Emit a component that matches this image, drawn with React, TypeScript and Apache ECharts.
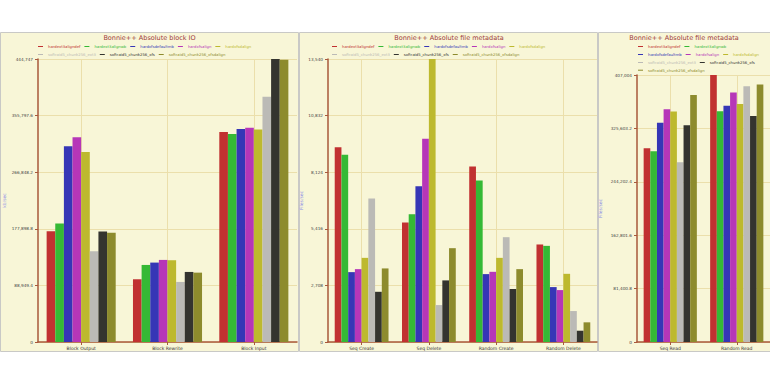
import React, { useEffect, useRef } from "react";
import * as echarts from "echarts";

const seriesNames = [
  "hardext3aligndef",
  "hardext3alignwb",
  "hardxfsdefaultmb",
  "hardxfsalign",
  "hardxfsdalign",
  "softraid5_chunk256_ext3",
  "softraid5_chunk256_xfs",
  "softraid5_chunk256_xfsdalign",
];
const seriesColors = ["#c13131", "#35b935", "#3636b6", "#b636b8", "#bdb92e", "#bbbab6", "#34342f", "#8d8b2d"];

const blockCategories = ["Block Output", "Block Rewrite", "Block Input"];
const metaCategories = ["Seq Create", "Seq Delete", "Random Create", "Random Delete"];
const readCategories = ["Seq Read", "Random Read"];

// values per category, in the order of seriesNames
const blockOutput = [174100, 186200, 307500, 321600, 298600, 142800, 173600, 171500];
const blockRewrite = [98600, 121100, 124800, 129000, 128500, 94400, 110100, 109000];
const blockInput = [329900, 326700, 334600, 336600, 334000, 385400, 444747, 443600];
const seqCreate = [9313, 8964, 3343, 3486, 4026, 6863, 2402, 3520];
const seqDelete = [5717, 6113, 7451, 9729, 13540, 1767, 2947, 4489];
const randomCreate = [8391, 7723, 3248, 3358, 4026, 5015, 2531, 3486];
const randomDelete = [4666, 4600, 2627, 2484, 3262, 1481, 540, 941];
const seqRead = [295300, 290700, 334400, 354700, 351200, 273900, 330300, 376500];
const randomRead = [407004, 351700, 360300, 380200, 362800, 389800, 344500, 392400];

const axisMaxima = [444747, 13540, 407004];
const titles = ["Bonnie++ Absolute block IO", "Bonnie++ Absolute file metadata", "Bonnie++ Absolute file metadata"];
const yNames = ["kb/sec", "Files/sec", "Files/sec"];

const FONT = "DejaVu Sans";
const AXIS_COLOR = "#a9583b";
const GRID_COLOR = "#ebdfab";

const fmt = (v: number) =>
  (Math.round(v * 10) / 10).toLocaleString("en-US", { maximumFractionDigits: 1 });

export default function App() {
  const ref = useRef<HTMLDivElement>(null);
  useEffect(() => {
    if (!ref.current) return;
    const chart = echarts.init(ref.current, null, { renderer: "svg" });

    const panelCats = [blockCategories, metaCategories, readCategories];
    const panelValues = [
      [blockOutput, blockRewrite, blockInput],
      [seqCreate, seqDelete, randomCreate, randomDelete],
      [seqRead, randomRead],
    ];
    const grids = [
      { left: 38, right: 770 - 297, top: 59, bottom: 43 },
      { left: 328, right: 770 - 597, top: 59, bottom: 43 },
      { left: 637, right: 0, top: 75, bottom: 43 },
    ];
    const nameGaps = [31, 23, 34];
    const titleCenters = [149.5, 449, 684];
    const legendLefts = [38, 332, 638];
    const legendRows = [
      [[0, 1, 2, 3, 4], [5, 6, 7]],
      [[0, 1, 2, 3, 4], [5, 6, 7]],
      [[0, 1], [2, 3, 4], [5, 6], [7]],
    ];
    const rowCenters = [47, 55, 63, 70.7];

    const legends: any[] = [];
    legendRows.forEach((rows, p) => {
      rows.forEach((row, r) => {
        legends.push({
          left: legendLefts[p],
          top: rowCenters[r] - 2.5,
          orient: "horizontal",
          padding: 0,
          icon: "rect",
          itemWidth: 5,
          itemHeight: 1,
          itemGap: 4,
          selectedMode: false,
          textStyle: { fontSize: 3.8, fontFamily: FONT },
          data: row.map((i) => ({ name: seriesNames[i], textStyle: { color: seriesColors[i] } })),
        });
      });
    });

    const series: any[] = [];
    panelValues.forEach((vals, p) => {
      seriesNames.forEach((name, s) => {
        series.push({
          type: "bar",
          name,
          xAxisIndex: p,
          yAxisIndex: p,
          barGap: "0%",
          barCategoryGap: "20%",
          itemStyle: { color: seriesColors[s] },
          data: vals.map((arr) => arr[s]),
        });
      });
    });

    const panelRects = [
      [0.5, 298.5],
      [299.5, 597.5],
      [598.5, 770.5],
    ];

    chart.setOption({
      animation: false,
      textStyle: { fontFamily: FONT },
      graphic: panelRects.map(([x0, x1]) => ({
        type: "rect",
        z: -10,
        silent: true,
        shape: { x: x0, y: 32.5, width: x1 - x0, height: 319 },
        style: { fill: "#f8f6d7", stroke: "#c9c9c6", lineWidth: 1 },
      })),
      title: titles.map((t, p) => ({
        text: t,
        left: titleCenters[p],
        top: 34.5,
        textAlign: "center",
        padding: 0,
        textStyle: { fontSize: 6.5, fontWeight: "normal", color: "#9e3b3b", fontFamily: FONT },
      })),
      legend: legends,
      grid: grids,
      xAxis: panelCats.map((cats, p) => ({
        type: "category",
        gridIndex: p,
        data: cats,
        boundaryGap: true,
        axisLine: { show: true, lineStyle: { color: AXIS_COLOR, width: 1.5 } },
        axisTick: { show: true, alignWithLabel: true, length: 3, lineStyle: { color: AXIS_COLOR } },
        axisLabel: { fontSize: 4.5, color: "#333", margin: 4, fontFamily: FONT },
        splitLine: { show: true, alignWithLabel: true, lineStyle: { color: GRID_COLOR, width: 1 } },
      })),
      yAxis: axisMaxima.map((max, p) => ({
        type: "value",
        gridIndex: p,
        min: 0,
        max,
        interval: max / 5,
        name: yNames[p],
        nameLocation: "middle",
        nameGap: nameGaps[p],
        nameRotate: 90,
        nameTextStyle: { color: "#8c8ce6", fontSize: 4.5, fontFamily: FONT },
        axisLine: { show: true, lineStyle: { color: AXIS_COLOR, width: 1.5 } },
        axisTick: { show: true, length: 3, lineStyle: { color: AXIS_COLOR } },
        axisLabel: { fontSize: 4.2, color: "#444", margin: 5, formatter: fmt, fontFamily: FONT },
        splitLine: { show: true, lineStyle: { color: GRID_COLOR, width: 1 } },
      })),
      series,
    });
    return () => chart.dispose();
  }, []);
  return (
    <div
      ref={ref}
      style={{ position: "absolute", left: 0, top: 0, width: 770, height: 385, background: "#ffffff" }}
    />
  );
}
